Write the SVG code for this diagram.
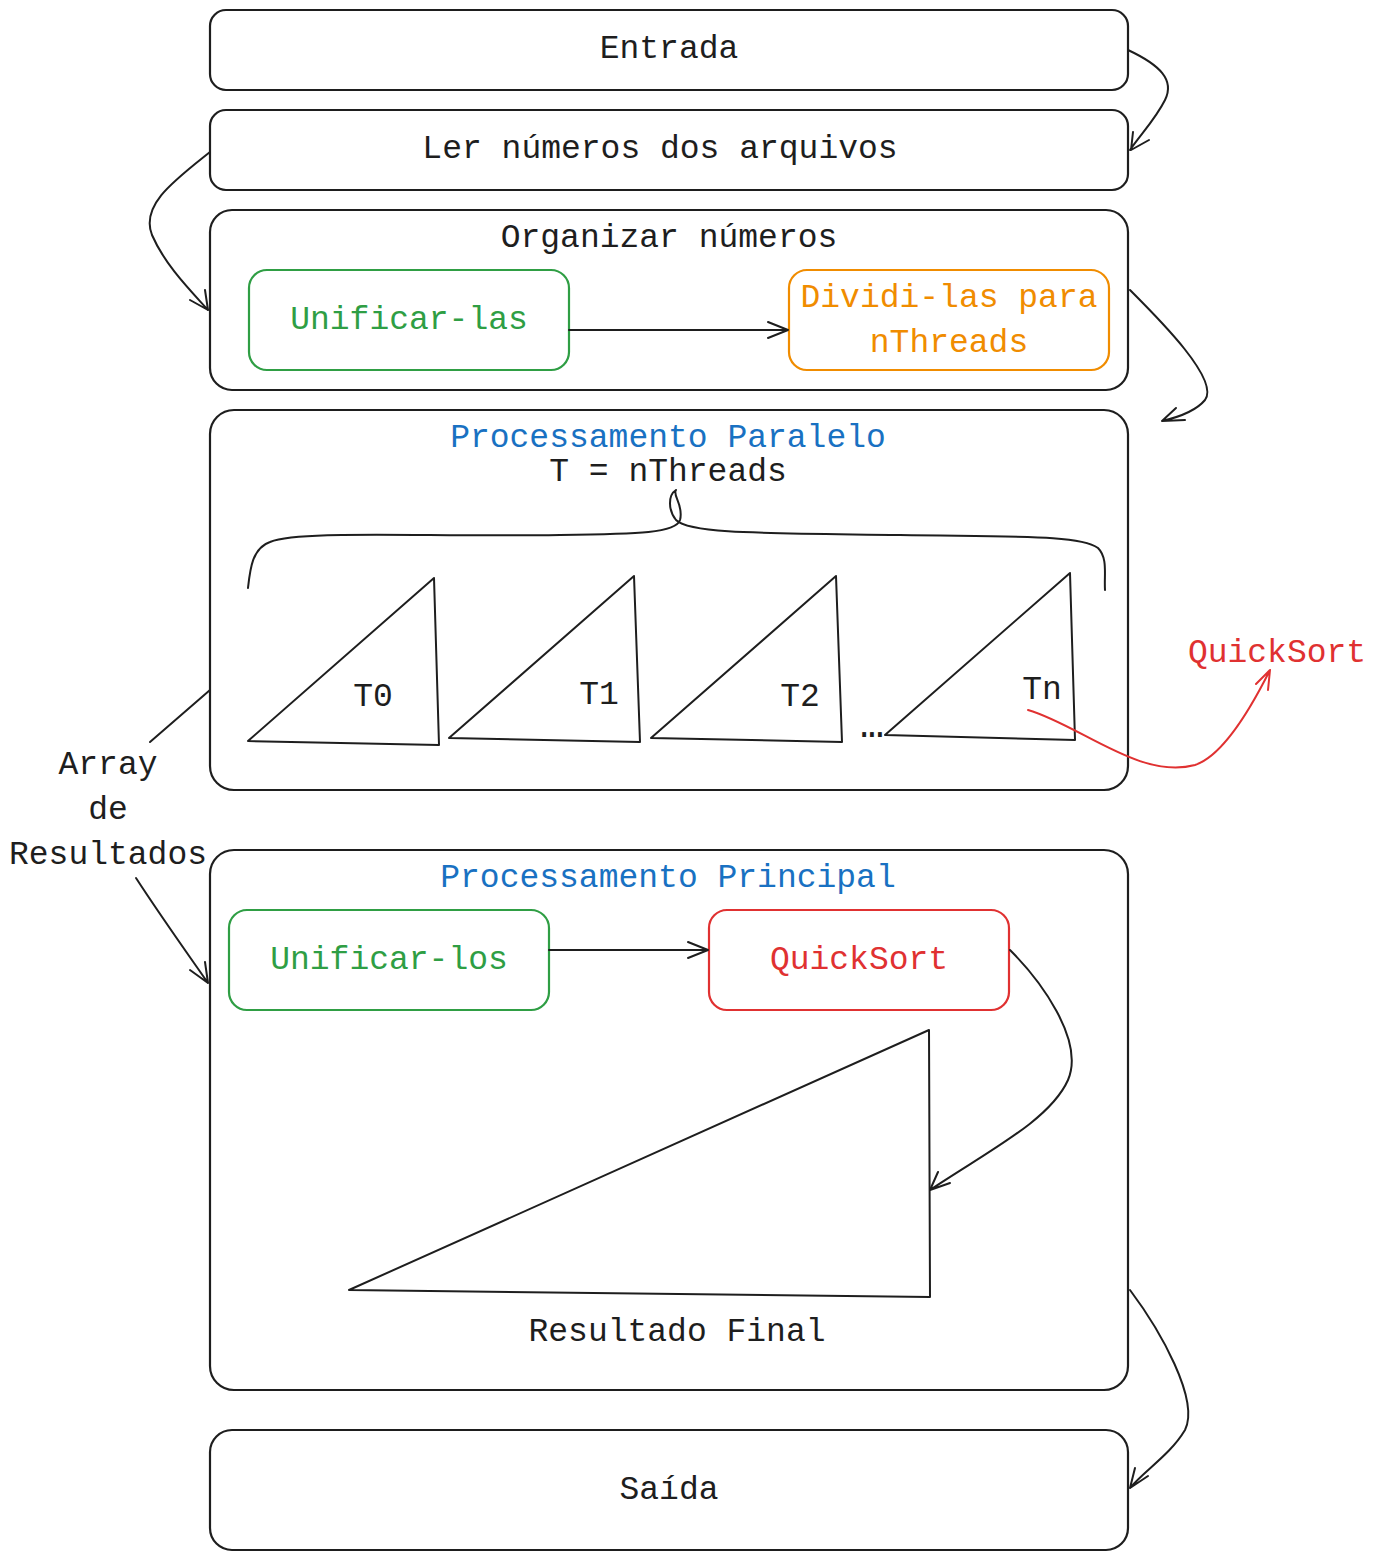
<svg xmlns="http://www.w3.org/2000/svg" width="1377" height="1560" viewBox="0 0 1377 1560">
<style>
text{font-family:"Liberation Mono","DejaVu Sans Mono",monospace;font-size:33px;fill:#1e1e1e;text-anchor:middle;dominant-baseline:central}
.box{fill:none;stroke:#1e1e1e;stroke-width:2.2}
.g{stroke:#2f9e44}.o{stroke:#f08c00}.r{stroke:#e03131}
.tg{fill:#2f9e44}.to{fill:#f08c00}.tr{fill:#e03131}.tb{fill:#1971c2}
.ln{fill:none;stroke:#1e1e1e;stroke-width:2;stroke-linecap:round;stroke-linejoin:round}
.tri{fill:none;stroke:#1e1e1e;stroke-width:2;stroke-linejoin:round}
</style>
<rect width="1377" height="1560" fill="#ffffff"/>
<g id="entrada"><rect class="box" x="210" y="10" width="918" height="80" rx="16"/><text x="669" y="49">Entrada</text></g>
<g id="ler"><rect class="box" x="210" y="110" width="918" height="80" rx="16"/><text x="660" y="149">Ler números dos arquivos</text></g>
<g id="organizar"><rect class="box" x="210" y="210" width="918" height="180" rx="22"/><text x="669" y="238">Organizar números</text></g>
<g id="unificar-las"><rect class="box g" x="249" y="270" width="320" height="100" rx="18"/><text class="tg" x="409" y="320">Unificar-las</text></g>
<g id="dividi"><rect class="box o" x="789" y="270" width="320" height="100" rx="18"/><text class="to" x="949" y="298">Dividi-las para</text><text class="to" x="949" y="343">nThreads</text></g>
<g id="paralelo"><rect class="box" x="210" y="410" width="918" height="380" rx="24"/><text class="tb" x="668" y="438">Processamento Paralelo</text><text x="668" y="472">T = nThreads</text>
<path class="ln" d="M248,588 C250,570 252,548 270,542 C300,530 420,537 560,535 C640,534 676,533 680,520 C684,505 672,495 676,490 M676,490 C668,495 668,510 676,520 C690,534 760,533 900,535 C1020,537 1080,535 1098,548 C1108,558 1104,575 1105,590"/>
</g>
<g id="t0"><path class="tri" d="M248,741 L434,578 L439,745 Z"/><text x="373" y="697">T0</text></g>
<g id="t1"><path class="tri" d="M449,738 L634,576 L640,742 Z"/><text x="599" y="695">T1</text></g>
<g id="t2"><path class="tri" d="M651,738 L836,576 L842,742 Z"/><text x="800" y="697">T2</text></g>
<g id="dots"><text x="866" y="728" style="letter-spacing:-12px">...</text></g>
<g id="tn"><path class="tri" d="M885,735 L1070,573 L1075,740 Z"/><text x="1042" y="690">Tn</text></g>
<g id="quicksort-label"><text class="tr" x="1277" y="653">QuickSort</text></g>
<g id="array-label"><text x="108" y="765">Array</text><text x="108" y="810">de</text><text x="108" y="855">Resultados</text></g>
<g id="principal"><rect class="box" x="210" y="850" width="918" height="540" rx="24"/><text class="tb" x="668" y="878">Processamento Principal</text></g>
<g id="unificar-los"><rect class="box g" x="229" y="910" width="320" height="100" rx="18"/><text class="tg" x="389" y="960">Unificar-los</text></g>
<g id="quicksort"><rect class="box r" x="709" y="910" width="300" height="100" rx="18"/><text class="tr" x="859" y="960">QuickSort</text></g>
<g id="resultado"><path class="tri" d="M349,1290 L929,1030 L930,1297 Z"/><text x="677" y="1332">Resultado Final</text></g>
<g id="saida"><rect class="box" x="210" y="1430" width="918" height="120" rx="22"/><text x="669" y="1490">Saída</text></g>
<g id="connectors">
<path class="ln" d="M1128,50 C1160,65 1175,80 1165,100 C1155,120 1140,135 1130,150 M1131,150 L1133,132 M1131,150 L1149,140"/>
<path class="ln" d="M210,152 C175,180 140,205 152,235 C165,265 190,290 208,310 M208,310 L205,290 M208,310 L190,300"/>
<path class="ln" d="M569,330 L788,330 M788,330 L768,322 M788,330 L768,338"/>
<path class="ln" d="M1130,290 C1160,320 1220,380 1205,400 C1195,412 1175,418 1162,421 M1162,421 L1176,408 M1162,421 L1185,420"/>
<path class="ln" d="M210,690 L150,742"/>
<path class="ln" d="M136,878 C160,915 185,950 208,983 M208,983 L205,962 M208,983 L190,970"/>
<path class="ln" d="M549,950 L708,950 M708,950 L688,942 M708,950 L688,958"/>
<path class="ln" d="M1010,950 C1040,980 1085,1040 1068,1080 C1050,1120 990,1150 930,1190 M930,1190 L938,1172 M930,1190 L950,1183"/>
<path class="ln" d="M1130,1290 C1160,1330 1200,1400 1185,1430 C1170,1455 1145,1470 1130,1488 M1130,1488 L1135,1468 M1130,1488 L1148,1476"/>
<path fill="none" stroke="#e03131" stroke-width="2" stroke-linecap="round" d="M1028,710 C1080,725 1140,780 1195,765 C1225,755 1255,700 1270,670 M1270,670 L1256,684 M1270,670 L1268,690"/>
</g>
</svg>
